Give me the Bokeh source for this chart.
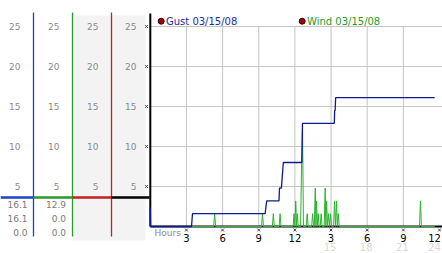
from bokeh.plotting import figure
from bokeh.models import Range1d
from bokeh.core.properties import value
from bokeh.embed import file_html
from bokeh.resources import INLINE

# ---------------- data ----------------
gust_hours = [0.0, 0.02, 3.42, 3.50, 9.53, 9.66, 10.68, 10.72, 10.88, 11.04,
              12.58, 12.63, 15.27, 15.30, 15.34, 15.38, 23.6]
gust_mph = [2.4, 0.0, 0.0, 1.6, 1.6, 3.2, 3.2, 4.8, 4.8, 8.0,
            8.0, 12.9, 12.9, 14.5, 14.5, 16.1, 16.1]

wind_hours = [0.0,
              5.26, 5.34, 5.42,
              9.23, 9.31, 9.39,
              10.13, 10.21, 10.29,
              10.69, 10.77, 10.85,
              11.85, 11.93, 12.00, 12.07, 12.14, 12.20, 12.28,
              12.47, 12.55, 12.63, 12.71,
              12.94, 13.02, 13.10,
              13.39, 13.47, 13.55,
              13.61, 13.69, 13.745, 13.80, 13.865, 13.93, 14.01,
              14.10, 14.18, 14.26,
              14.43, 14.51, 14.57, 14.63, 14.71, 14.79, 14.87, 14.96, 15.04,
              15.21, 15.29, 15.37, 15.45, 15.52, 15.60, 15.68,
              22.34, 22.42, 22.50,
              23.6]
wind_mph = [0.0,
            0.0, 1.6, 0.0,
            0.0, 1.6, 0.0,
            0.0, 1.6, 0.0,
            0.0, 1.6, 0.0,
            0.0, 1.6, 0.0, 3.2, 0.0, 1.6, 0.0,
            0.0, 7.2, 12.9, 0.0,
            0.0, 1.6, 0.0,
            0.0, 1.6, 0.0,
            0.0, 4.8, 0.0, 3.2, 0.0, 1.6, 0.0,
            0.0, 1.6, 0.0,
            0.0, 4.8, 0.0, 3.2, 0.0, 1.6, 0.0, 1.6, 0.0,
            0.0, 3.2, 0.0, 3.2, 0.0, 1.6, 0.0,
            0.0, 3.2, 0.0,
            0.0]

y_ticks = [5, 10, 15, 20, 25]
x_ticks = [3, 6, 9, 12, 15, 18, 21, 24]
x_tick_labels = ["3", "6", "9", "12", "3", "6", "9", "12"]
x_ticks_24h = [15, 18, 21, 24]
x_tick_labels_24h = ["15", "18", "21", "24"]
legend_labels = ["Gust 03/15/08", "Wind 03/15/08"]

# ---------------- layout helpers (pixel -> data) ----------------
W, H = 442, 253
X0, PXH = 149.8, 12.05   # pixel of hour 0, pixels per hour
Y0, PXV = 226.0, 8.0     # pixel of 0 mph, pixels per mph


def hx(px):
    return (px - X0) / PXH


def vy(py):
    return (Y0 - py) / PXV


FONT = value("DejaVu Sans")
GUST_C = "#0d1b8e"
WIND_C = "#2db32d"
GRID_C = "#c4c4c4"

p = figure(width=W, height=H, output_backend="svg", toolbar_location=None,
           x_range=Range1d(hx(0), hx(W)), y_range=Range1d(vy(H), vy(0)),
           x_axis_location=None, y_axis_location=None, min_border=0,
           outline_line_color=None, background_fill_color="white",
           border_fill_color="white")
p.xgrid.visible = False
p.ygrid.visible = False

# ---------------- left panel ----------------
p.quad(left=[hx(72)], right=[hx(145)], top=[vy(15)], bottom=[vy(240)],
       fill_color="#f3f3f3", line_color=None)

col_edges = [0, 33, 72, 111, 149]
col_colors = ["#1a44c8", "#2a9a2a", "#c62020", "black"]
for i in range(3):
    p.segment(x0=[hx(col_edges[i + 1])], y0=[vy(12)], x1=[hx(col_edges[i + 1])],
              y1=[vy(236)], line_color=col_colors[i], line_width=1.3)
for i in range(4):
    p.segment(x0=[hx(col_edges[i])], y0=[vy(197)], x1=[hx(col_edges[i + 1])],
              y1=[vy(197)], line_color=col_colors[i], line_width=2.5)
    right = col_edges[i + 1] - 13
    p.text(x=[hx(right)] * len(y_ticks), y=y_ticks, text=[str(t) for t in y_ticks],
           text_font=FONT, text_font_size="9px", text_color="#8a8a8a",
           text_align="right", text_baseline="middle")

gust_stats = [max(gust_mph), gust_mph[-1], min(gust_mph)]
wind_stats = [max(wind_mph), wind_mph[-1], min(wind_mph)]
stat_rows = [vy(204), vy(218), vy(231.5)]
for right, stats in ((27, gust_stats), (65.5, wind_stats)):
    p.text(x=[hx(right)] * 3, y=stat_rows, text=["%.1f" % s for s in stats],
           text_font=FONT, text_font_size="9px", text_color="#7a7a7a",
           text_align="right", text_baseline="middle")

# ---------------- plot grid ----------------
p.segment(x0=[0] * len(y_ticks), y0=y_ticks, x1=[hx(W)] * len(y_ticks), y1=y_ticks,
          line_color=GRID_C, line_width=1)
p.segment(x0=x_ticks[:-1], y0=[0] * 7, x1=x_ticks[:-1], y1=[y_ticks[-1]] * 7,
          line_color=GRID_C, line_width=1)

# axes lines
p.segment(x0=[0], y0=[vy(13)], x1=[0], y1=[0], line_color="black", line_width=2)
p.segment(x0=[0], y0=[0], x1=[hx(W)], y1=[0], line_color="black", line_width=2)

# tick markers
p.scatter(x=[hx(146)] * len(y_ticks), y=y_ticks, marker="x", size=4,
          line_color="#444444", line_width=1)
p.scatter(x=x_ticks, y=[vy(229.5)] * len(x_ticks), marker="x", size=4,
          line_color="#444444", line_width=1)

# data
p.line(wind_hours, wind_mph, line_color=WIND_C, line_width=1)
p.line(gust_hours, gust_mph, line_color=GUST_C, line_width=1.3)

# x labels (the last one is nudged inside the window edge)
p.text(x=x_ticks, y=[vy(237.5)] * len(x_ticks), text=x_tick_labels,
       text_font=FONT, text_font_size="10px", text_color="black",
       text_align="center", text_baseline="middle",
       x_offset=[0] * (len(x_ticks) - 1) + [-5])
p.text(x=x_ticks_24h, y=[vy(246.5)] * len(x_ticks_24h), text=x_tick_labels_24h,
       text_font=FONT, text_font_size="10px", text_color="#d6d6d6",
       text_align="center", text_baseline="middle",
       x_offset=[-1, -1, -1, -5])
p.text(x=[hx(154)], y=[vy(232)], text=["Hours"], text_font=FONT,
       text_font_size="9px", text_color="#8a8a8a", text_align="left",
       text_baseline="middle")

# legend
p.scatter(x=[hx(160.7), hx(301.7)], y=[vy(20.7)] * 2, marker="circle", size=6,
          fill_color="#a40000", line_color="#3a0000", line_width=1)
p.text(x=[hx(165.5)], y=[vy(20.5)], text=[legend_labels[0]], text_font=FONT,
       text_font_size="10px", text_color="#1c2ca0", text_align="left",
       text_baseline="middle")
p.text(x=[hx(306.5)], y=[vy(20.5)], text=[legend_labels[1]], text_font=FONT,
       text_font_size="10px", text_color="#2a9a2a", text_align="left",
       text_baseline="middle")

open("out.html", "w").write(file_html(p, INLINE))
